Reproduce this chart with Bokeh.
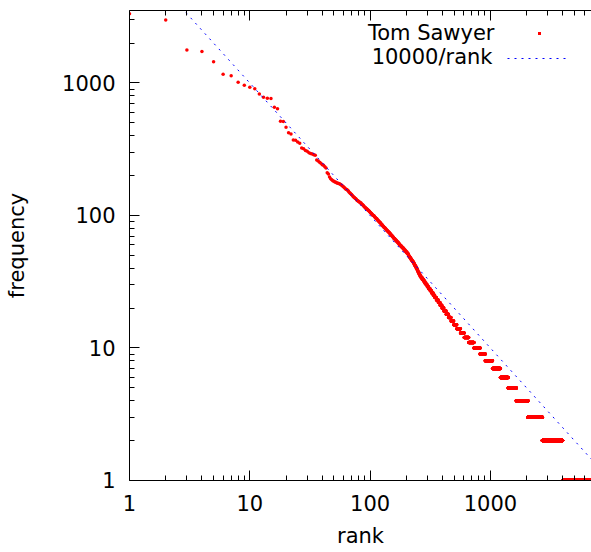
import numpy as np
from bokeh.plotting import figure
from bokeh.models import (LogAxis, FixedTicker, Label, BasicTickFormatter,
                          Arrow, BoxAnnotation)
from bokeh.embed import file_html
from bokeh.resources import INLINE

# ---- data ----
# frequencies of the most common words, rank 1..105
top_freqs = [3330, 2985, 1778, 1727, 1444, 1165, 1132, 1014, 962, 929,
             906, 827, 781, 767, 764, 656, 640, 515, 513, 463,
             422, 412, 371, 369, 358, 351, 323, 319, 310, 305,
             298, 294, 291, 288, 285, 262, 258, 252, 248, 242,
             239, 233, 228, 210, 206, 195, 189, 186, 183, 181,
             179, 178, 176, 175, 174, 173, 171, 169, 167, 165,
             163, 160, 158, 157, 155, 153, 150, 148, 146, 144,
             142, 140, 138, 137, 135, 134, 132, 130, 129, 128,
             127, 126, 125, 124, 122, 121, 120, 119, 117, 116,
             115, 114, 113, 112, 111, 110, 109, 108, 107, 106,
             105, 104, 103, 102, 101]

# remaining words: frequency level and number of words at that level
level_freqs = [100, 99, 98, 97, 96, 95, 94, 93, 92, 91,
               90, 89, 88, 87, 86, 85, 84, 83, 82, 81,
               80, 79, 78, 77, 76, 75, 74, 73, 72, 71,
               70, 69, 68, 67, 66, 65, 64, 63, 62, 61,
               60, 59, 58, 57, 56, 55, 54, 53, 52, 51,
               50, 49, 48, 47, 46, 45, 44, 43, 42, 41,
               40, 39, 38, 37, 36, 35, 34, 33, 32, 31,
               30, 29, 28, 27, 26, 25, 24, 23, 22, 21,
               20, 19, 18, 17, 16, 15, 14, 13, 12, 11,
               10, 9, 8, 7, 6, 5, 4, 3, 2, 1]
level_counts = [2, 1, 1, 1, 1, 2, 1, 1, 1, 2,
                1, 1, 2, 1, 1, 2, 1, 2, 1, 2,
                2, 1, 2, 2, 2, 2, 2, 2, 2, 2,
                2, 2, 2, 3, 2, 3, 2, 3, 3, 2,
                3, 3, 3, 4, 3, 4, 3, 4, 4, 2,
                2, 3, 4, 3, 4, 4, 3, 3, 4, 3,
                4, 3, 3, 4, 4, 5, 6, 7, 7, 7,
                7, 8, 9, 9, 10, 10, 11, 13, 13, 14,
                15, 18, 20, 22, 25, 30, 38, 42, 55, 70,
                90, 85, 135, 170, 195, 235, 410, 650, 1280, 4020]

# reference line 10000/rank
ref_ranks = [1, 10000]
ref_freqs = [10000, 1]

series_names = ["Tom Sawyer", "10000/rank"]

major_ticks = [1, 10, 100, 1000]
minor_ticks = [2, 3, 4, 5, 6, 7, 8, 9,
               20, 30, 40, 50, 60, 70, 80, 90,
               200, 300, 400, 500, 600, 700, 800, 900,
               2000, 3000, 4000, 5000, 6000]

x_limits = (0.9999, 6925)
y_limits = (0.9999, 3525)

freqs = np.concatenate([np.array(top_freqs), np.repeat(level_freqs, level_counts)])
ranks = np.arange(1, len(freqs) + 1)

FONT = "DejaVu Sans"
FS = "21px"

p = figure(width=591, height=550, x_axis_type="log", y_axis_type="log",
           x_range=x_limits, y_range=y_limits,
           output_backend="svg", toolbar_location=None,
           min_border_left=129, min_border_right=0,
           min_border_top=10, min_border_bottom=70)
p.outline_line_color = None
p.xgrid.visible = False
p.ygrid.visible = False
p.background_fill_color = "white"
p.border_fill_color = "white"


def style(ax):
    ax.ticker = FixedTicker(ticks=major_ticks, minor_ticks=minor_ticks)
    ax.formatter = BasicTickFormatter()
    ax.major_tick_in = 10
    ax.major_tick_out = 0
    ax.minor_tick_in = 5
    ax.minor_tick_out = 0
    ax.axis_line_color = "black"
    ax.major_tick_line_color = "black"
    ax.minor_tick_line_color = "black"
    ax.major_label_text_font = FONT
    ax.major_label_text_font_size = FS
    ax.major_label_text_color = "black"
    ax.axis_label_text_font = FONT
    ax.axis_label_text_font_size = FS
    ax.axis_label_text_font_style = "normal"
    ax.axis_label_text_color = "black"


xa = p.xaxis[0]
style(xa)
xa.axis_label = "rank"
xa.major_label_standoff = 14
xa.axis_label_standoff = 10

ya = p.yaxis[0]
style(ya)
ya.axis_label = "frequency"
ya.major_label_standoff = 14
ya.axis_label_standoff = 30

# top border with inward ticks and no labels: long ticks at decades, short between
top_major = LogAxis(ticker=FixedTicker(ticks=[], minor_ticks=major_ticks))
top_major.minor_tick_in = 10
top_major.minor_tick_out = 0
top_major.major_tick_in = 0
top_major.major_tick_out = 0
top_major.major_label_standoff = 0
top_major.axis_line_color = "black"
top_major.minor_tick_line_color = "black"
p.add_layout(top_major, "above")

top_minor = LogAxis(ticker=FixedTicker(ticks=[], minor_ticks=minor_ticks))
top_minor.minor_tick_in = 5
top_minor.minor_tick_out = 0
top_minor.major_tick_in = 0
top_minor.major_tick_out = 0
top_minor.major_label_standoff = 0
top_minor.axis_line_color = None
top_minor.minor_tick_line_color = "black"
p.add_layout(top_minor, "above")

r_pts = p.scatter(ranks, freqs, size=3.5, marker="circle", fill_color="red",
                  line_color=None)
r_line = p.line(ref_ranks, ref_freqs, line_color="blue", line_dash="2 5",
                line_width=1)

# key (text to the left of the sample, as in the reference)
p.add_layout(Label(x=365, y=448, x_units="screen", y_units="screen",
                   text=series_names[0], text_align="right",
                   text_baseline="alphabetic",
                   text_font=FONT, text_font_size=FS, text_color="black"))
p.add_layout(Label(x=363, y=424, x_units="screen", y_units="screen",
                   text=series_names[1], text_align="right",
                   text_baseline="alphabetic",
                   text_font=FONT, text_font_size=FS, text_color="black"))
p.add_layout(BoxAnnotation(left=408.5, right=411.5, bottom=445.5, top=448.5,
                           left_units="screen", right_units="screen",
                           bottom_units="screen", top_units="screen",
                           fill_color="red", fill_alpha=1, line_color=None))
p.add_layout(Arrow(x_start=378, y_start=422, x_end=440, y_end=422,
                   start_units="screen", end_units="screen", end=None,
                   line_color="blue", line_dash="2 5", line_width=1))

open("out.html", "w").write(file_html(p, INLINE))
